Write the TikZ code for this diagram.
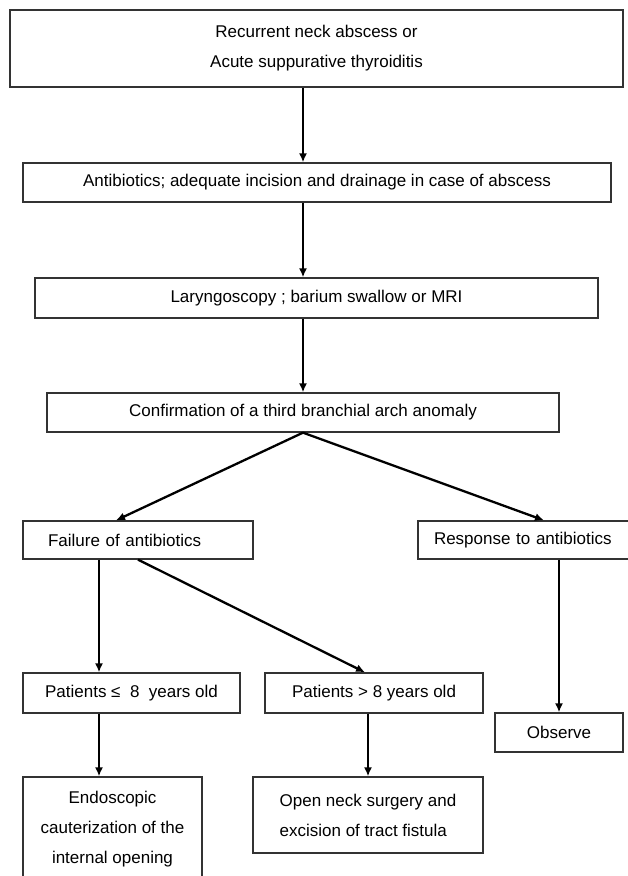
\documentclass[tikz,border=0pt]{standalone}
\usepackage{fontspec}
\setmainfont{Liberation Sans}
\usetikzlibrary{arrows.meta}
\begin{document}
\begin{tikzpicture}[x=1pt, y=-1pt,
  box/.style={draw=black!80, line width=1.3pt, rectangle, inner sep=0pt, align=center,
    font=\fontsize{17}{30}\selectfont},
  arr/.style={line width=2.3pt, -{Latex[length=9pt, width=8pt]}}]
\useasboundingbox (0,0) rectangle (628,876);
% boxes
\node[box, minimum width=613, minimum height=77] (recur) at (316.5,48.5) {Recurrent neck abscess or\\Acute suppurative thyroiditis};
\node[box, minimum width=588, minimum height=39] (anti) at (317,182.5) {Antibiotics; adequate incision and drainage in case of abscess};
\node[box, minimum width=563, minimum height=40] (laryn) at (316.5,298) {Laryngoscopy ; barium swallow or MRI};
\node[box, minimum width=512, minimum height=39] (conf) at (303,412.5) {Confirmation of a third branchial arch anomaly};
\node[box, minimum width=230, minimum height=38, text width=180, align=left] (fail) at (138,540) {Failure of antibiotics};
\node[box, minimum width=216, minimum height=38, text width=184, align=left] (resp) at (526,540) {Response to antibiotics};
\node[box, minimum width=217, minimum height=40] (lesseight) at (131.5,693) {Patients ≤\ \ 8\ \ years old};
\node[box, minimum width=218, minimum height=40] (moreeight) at (374,693) {Patients > 8 years old};
\node[box, minimum width=128, minimum height=39] (obs) at (559,732.5) {Observe};
\node[box, minimum width=179, minimum height=104] (endo) at (112.5,829) {Endoscopic\\cauterization of the\\internal opening};
\node[box, minimum width=230, minimum height=76, align=left] (open) at (368,815) {Open neck surgery and\\excision of tract fistula};
% where the arrows meet the boxes
\coordinate (leftcol) at (99,0);
\coordinate (splitcol) at (138,0);
\coordinate (failtip) at (116,0);
\coordinate (resptip) at (544,0);
\coordinate (moretip) at (365,0);
% arrows
\draw[arr] (recur.south -| conf.south) -- (anti.north -| conf.south);
\draw[arr] (anti.south -| conf.south) -- (laryn.north -| conf.south);
\draw[arr] (laryn.south -| conf.south) -- (conf.north);
\draw[arr] (conf.south) -- (fail.north -| failtip);
\draw[arr] (conf.south) -- (resp.north -| resptip);
\draw[arr] (fail.south -| leftcol) -- (lesseight.north -| leftcol);
\draw[arr] (fail.south -| splitcol) -- (moreeight.north -| moretip);
\draw[arr] (resp.south -| obs.north) -- (obs.north);
\draw[arr] (lesseight.south -| leftcol) -- (endo.north -| leftcol);
\draw[arr] (moreeight.south -| open.north) -- (open.north);
\end{tikzpicture}
\end{document}
